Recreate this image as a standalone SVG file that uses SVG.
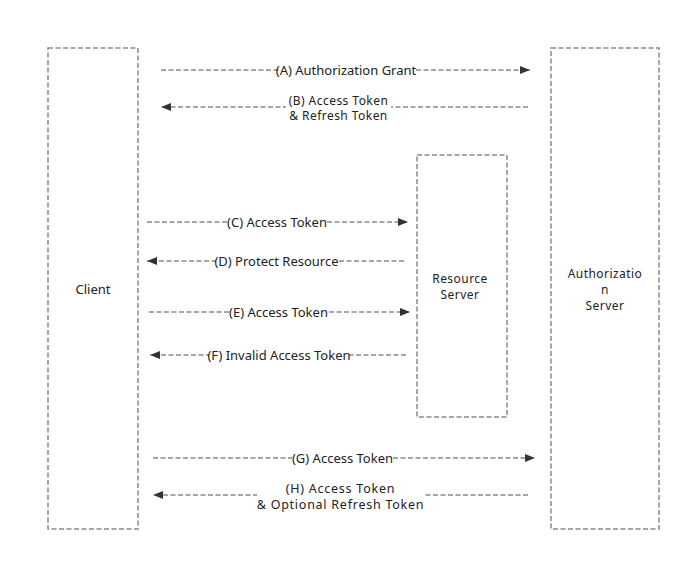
<svg xmlns="http://www.w3.org/2000/svg" width="691" height="562" viewBox="0 0 691 562">
<style>
.box{fill:#fff;stroke:#8a8a8a;stroke-width:1.5;stroke-dasharray:5 2.5}
.ln{stroke:#8a8a8a;stroke-width:1.3;stroke-dasharray:5 2.5;fill:none}
text{font-family:"Noto Sans","Open Sans","Liberation Sans",sans-serif;font-size:13px;fill:#222;text-anchor:middle}
.two{font-size:12px;letter-spacing:0.45px}
.big{font-size:12.5px;letter-spacing:0.75px}
.bg{fill:#fff}
</style>
<defs>
<marker id="ah" viewBox="0 0 10 8" refX="10" refY="4" markerWidth="10" markerHeight="8" markerUnits="userSpaceOnUse" orient="auto">
<path d="M0,0 L10,4 L0,8 Z" fill="#333"/>
</marker>
</defs>
<rect width="691" height="562" fill="#fff"/>
<g id="client"><rect class="box" x="48" y="48" width="90" height="481"/><text x="93" y="294">Client</text></g>
<g id="auth"><rect class="box" x="551" y="48" width="108" height="481"/><text class="two" x="605" y="278">Authorizatio</text><text class="two" x="605" y="294">n</text><text class="two" x="605" y="310">Server</text></g>
<g id="resource"><rect class="box" x="417" y="155" width="90" height="262"/><text class="two" x="460" y="283">Resource</text><text class="two" x="460" y="299">Server</text></g>
<g id="connectors">
<line class="ln" x1="161" y1="70" x2="530" y2="70" marker-end="url(#ah)"/>
<rect class="bg" x="279" y="62" width="134" height="16"/>
<text x="346" y="75">(A) Authorization Grant</text>
<line class="ln" x1="528" y1="107" x2="161" y2="107" marker-end="url(#ah)"/>
<rect class="bg" x="286" y="92" width="105" height="30"/>
<text class="two" x="338.5" y="104.5">(B) Access Token</text>
<text class="two" x="338.5" y="120">&amp; Refresh Token</text>
<line class="ln" x1="147" y1="222" x2="408" y2="222" marker-end="url(#ah)"/>
<rect class="bg" x="228" y="214" width="98" height="16"/>
<text x="277" y="227">(C) Access Token</text>
<line class="ln" x1="404" y1="261" x2="147" y2="261" marker-end="url(#ah)"/>
<rect class="bg" x="216" y="253" width="121" height="16"/>
<text x="276.5" y="266">(D) Protect Resource</text>
<line class="ln" x1="149" y1="312" x2="410" y2="312" marker-end="url(#ah)"/>
<rect class="bg" x="230" y="304" width="97" height="16"/>
<text x="278.5" y="317">(E) Access Token</text>
<line class="ln" x1="406" y1="355" x2="150" y2="355" marker-end="url(#ah)"/>
<rect class="bg" x="209" y="347" width="140" height="16"/>
<text x="279" y="360">(F) Invalid Access Token</text>
<line class="ln" x1="153" y1="458" x2="535" y2="458" marker-end="url(#ah)"/>
<rect class="bg" x="292" y="450" width="101" height="16"/>
<text x="342.5" y="463">(G) Access Token</text>
<line class="ln" x1="528" y1="495" x2="153" y2="495" marker-end="url(#ah)"/>
<rect class="bg" x="257" y="480" width="168" height="32"/>
<text class="big" x="340.5" y="492.5">(H) Access Token</text>
<text class="big" x="340.5" y="508.5">&amp; Optional Refresh Token</text>
</g>
</svg>
